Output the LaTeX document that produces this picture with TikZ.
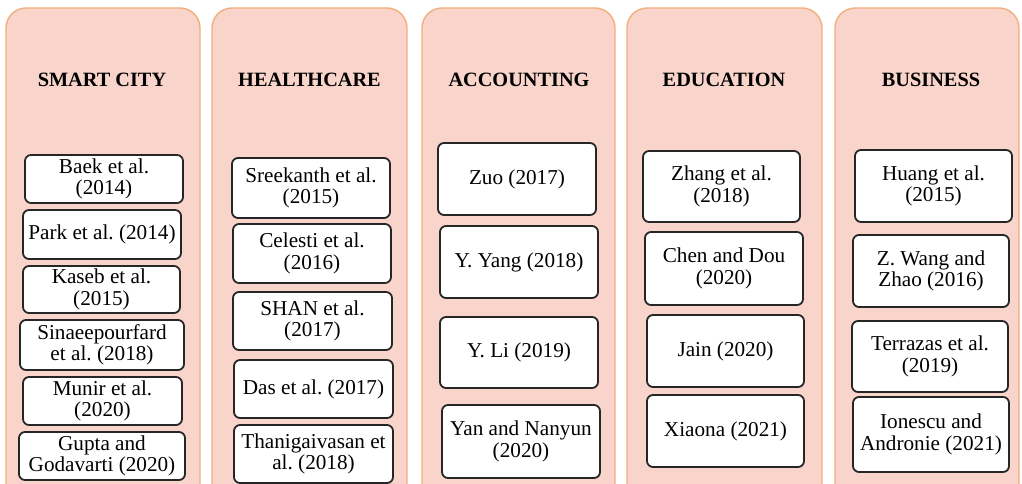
\documentclass[tikz,border=0pt]{standalone}
\usepackage{fontspec}
\setmainfont{Liberation Serif}
\definecolor{panelfill}{HTML}{F8D4CB}
\definecolor{panelline}{HTML}{F2AE7E}
\definecolor{boxline}{HTML}{262626}
\tikzset{
  panel/.style={draw=panelline, fill=panelfill, line width=1.4pt, rounded corners=20pt},
  title/.style={font=\fontsize{20.3}{21}\selectfont\bfseries, inner sep=0pt},
  ref/.style={draw=boxline, fill=white, line width=1.8pt, rounded corners=6pt, align=center,
    font=\fontsize{21.2}{21.5}\selectfont\frenchspacing, inner sep=0pt}
}
\begin{document}
\begin{tikzpicture}[x=1pt,y=-1pt]
\useasboundingbox (0,0) rectangle (1022,484);
\clip (0,0) rectangle (1022,484);
% panels
\draw[panel] (6,8) rectangle (200,520);
\draw[panel] (212,8) rectangle (407,520);
\draw[panel] (422,8) rectangle (615,520);
\draw[panel] (627,8) rectangle (822,520);
\draw[panel] (835,8) rectangle (1019,520);
% titles
\node[title] (t1) at (102,80) {SMART CITY};
\node[title] (t2) at (309.5,80) {HEALTHCARE};
\node[title] (t3) at (519,80) {ACCOUNTING};
\node[title] (t4) at (724,80) {EDUCATION};
\node[title] (t5) at (931,80) {BUSINESS};
% smart city
\node[ref, minimum width=158, minimum height=48] (b11) at (104,179) {Baek et al.\\(2014)};
\node[ref, minimum width=158, minimum height=49] (b12) at (102,234.5) {Park et al. (2014)};
\node[ref, minimum width=157, minimum height=47] (b13) at (101.5,289.5) {Kaseb et al.\\(2015)};
\node[ref, minimum width=164, minimum height=50] (b14) at (102,345) {Sinaeepourfard\\et al. (2018)};
\node[ref, minimum width=159, minimum height=48] (b15) at (102.5,401) {Munir et al.\\(2020)};
\node[ref, minimum width=166, minimum height=48] (b16) at (102,456) {Gupta and\\Godavarti (2020)};
% healthcare
\node[ref, minimum width=158, minimum height=60] (b21) at (311,188) {Sreekanth et al.\\(2015)};
\node[ref, minimum width=158, minimum height=59] (b22) at (312,253.5) {Celesti et al.\\(2016)};
\node[ref, minimum width=159, minimum height=58] (b23) at (312.5,321) {SHAN et al.\\(2017)};
\node[ref, minimum width=159, minimum height=58] (b24) at (313.5,389) {Das et al. (2017)};
\node[ref, minimum width=159, minimum height=58] (b25) at (313.5,454) {Thanigaivasan et\\al. (2018)};
% accounting
\node[ref, minimum width=158, minimum height=72] (b31) at (517,179) {Zuo (2017)};
\node[ref, minimum width=158, minimum height=72] (b32) at (519,262) {Y. Yang (2018)};
\node[ref, minimum width=158, minimum height=71] (b33) at (519,352.5) {Y. Li (2019)};
\node[ref, minimum width=158, minimum height=73] (b34) at (521,441.5) {Yan and Nanyun\\(2020)};
% education
\node[ref, minimum width=157, minimum height=71] (b41) at (721.5,186.5) {Zhang et al.\\(2018)};
\node[ref, minimum width=158, minimum height=73] (b42) at (724,268.5) {Chen and Dou\\(2020)};
\node[ref, minimum width=157, minimum height=72] (b43) at (725.5,351) {Jain (2020)};
\node[ref, minimum width=157, minimum height=72] (b44) at (725.5,431) {Xiaona (2021)};
% business
\node[ref, minimum width=157, minimum height=72] (b51) at (933.5,186) {Huang et al.\\(2015)};
\node[ref, minimum width=156, minimum height=72] (b52) at (931,271) {Z. Wang and\\Zhao (2016)};
\node[ref, minimum width=156, minimum height=71] (b53) at (930,356.5) {Terrazas et al.\\(2019)};
\node[ref, minimum width=156, minimum height=75] (b54) at (931,434.5) {Ionescu and\\Andronie (2021)};
\end{tikzpicture}
\end{document}
